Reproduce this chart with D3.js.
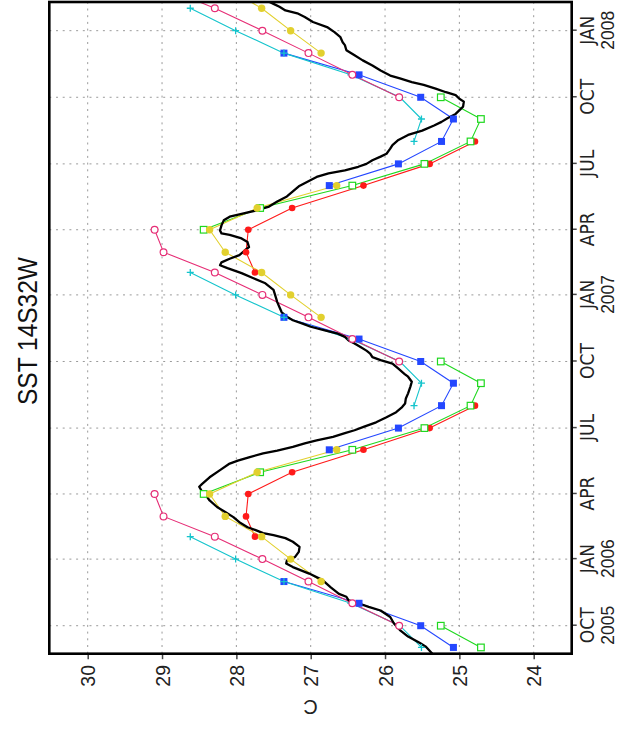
<!DOCTYPE html>
<html><head><meta charset="utf-8">
<script src="https://cdn.jsdelivr.net/npm/d3@7"></script>
<style>body{margin:0;background:#fff}</style>
</head><body>
<svg id="c" width="621" height="731"></svg>
<script>
// ---------- DATA ----------
const months = ["2005-09","2005-10","2005-11","2005-12","2006-01","2006-02","2006-03","2006-04","2006-05","2006-06","2006-07","2006-08",
"2006-09","2006-10","2006-11","2006-12","2007-01","2007-02","2007-03","2007-04","2007-05","2007-06","2007-07","2007-08",
"2007-09","2007-10","2007-11","2007-12","2008-01","2008-02","2008-03"];
const _ = null;
const redVals     = [_,_,_,_,_,27.75,27.87,27.84,27.25,26.29,25.40,24.79,_,_,_,_,_,27.75,27.87,27.84,27.25,26.29,25.40,24.79,_,_,_,_,_,_,_];
const greenVals   = [24.71,25.25,_,_,_,_,_,28.44,27.68,26.44,25.47,24.85,24.71,25.25,_,_,_,_,_,28.44,27.68,26.44,25.47,24.85,24.71,25.25,_,_,_,_,_];
const blueVals    = [25.08,25.52,26.35,27.36,_,_,_,_,_,26.75,25.82,25.24,25.08,25.52,26.35,27.36,_,_,_,_,_,26.75,25.82,25.24,25.08,25.52,26.35,27.36,_,_,_];
const cyanVals    = [25.51,25.80,26.46,27.36,28.01,28.62,_,_,_,_,_,25.61,25.51,25.80,26.46,27.36,28.01,28.62,_,_,_,_,_,25.61,25.51,25.80,26.46,27.36,28.01,28.62,_];
const magentaVals = [_,25.81,26.44,27.03,27.65,28.29,28.98,29.10,_,_,_,_,_,25.81,26.44,27.03,27.65,28.29,28.98,29.10,_,_,_,_,_,25.81,26.44,27.03,27.65,28.29,28.98];
const yellowVals  = [_,_,_,26.86,27.27,27.66,28.15,28.36,27.72,26.65,_,_,_,_,_,26.86,27.27,27.66,28.15,28.36,27.72,26.65,_,_,_,_,_,26.86,27.27,27.66,28.15];

const sst = [
["2005-08-20",25.30],["2005-08-23",25.36],["2005-09-02",25.45],["2005-09-07",25.53],["2005-09-16",25.69],["2005-09-25",25.80],
["2005-10-04",25.88],["2005-10-13",25.93],["2005-10-22",26.06],["2005-10-27",26.22],["2005-11-01",26.36],["2005-11-05",26.49],
["2005-11-10",26.52],["2005-11-14",26.62],["2005-11-23",26.73],["2005-12-03",26.84],["2005-12-12",27.02],["2005-12-21",27.24],
["2005-12-26",27.33],["2005-12-30",27.32],["2006-01-04",27.21],["2006-01-11",27.16],["2006-01-18",27.15],["2006-01-25",27.24],
["2006-01-30",27.34],["2006-02-03",27.50],["2006-02-06",27.64],["2006-02-10",27.74],["2006-02-14",27.85],["2006-02-21",27.96],
["2006-02-28",28.04],["2006-03-07",28.15],["2006-03-14",28.26],["2006-03-23",28.36],["2006-03-30",28.41],["2006-04-04",28.46],
["2006-04-11",28.50],["2006-04-15",28.46],["2006-04-24",28.36],["2006-05-04",28.22],["2006-05-13",28.09],["2006-05-17",27.98],
["2006-05-22",27.82],["2006-05-27",27.64],["2006-05-31",27.45],["2006-06-05",27.24],["2006-06-10",27.08],["2006-06-14",26.92],
["2006-06-19",26.70],["2006-06-24",26.54],["2006-06-28",26.41],["2006-07-03",26.28],["2006-07-09",26.12],["2006-07-16",25.98],
["2006-07-23",25.85],["2006-07-30",25.77],["2006-08-04",25.73],["2006-08-11",25.72],["2006-08-18",25.69],["2006-08-27",25.66],
["2006-09-03",25.64],["2006-09-10",25.69],["2006-09-14",25.74],["2006-09-21",25.82],["2006-09-28",25.90],["2006-10-03",26.06],
["2006-10-07",26.17],["2006-10-12",26.20],["2006-10-16",26.25],["2006-10-21",26.33],["2006-10-26",26.41],["2006-10-30",26.49],
["2006-11-04",26.54],["2006-11-09",26.65],["2006-11-13",26.81],["2006-11-18",27.00],["2006-11-22",27.10],["2006-11-27",27.24],
["2006-12-02",27.32],["2006-12-08",27.39],["2006-12-15",27.42],["2006-12-22",27.45],["2006-12-29",27.47],["2007-01-08",27.50],
["2007-01-17",27.61],["2007-01-24",27.77],["2007-01-31",27.93],["2007-02-07",28.12],["2007-02-11",28.22],["2007-02-15",28.20],
["2007-02-20",28.09],["2007-02-25",27.96],["2007-03-04",27.88],["2007-03-08",27.83],["2007-03-15",27.85],["2007-03-20",27.93],
["2007-03-25",28.09],["2007-03-27",28.20],["2007-03-31",28.22],["2007-04-07",28.20],["2007-04-14",28.17],["2007-04-19",28.09],
["2007-04-23",27.93],["2007-04-28",27.72],["2007-05-03",27.56],["2007-05-10",27.45],["2007-05-17",27.32],["2007-05-24",27.24],
["2007-05-31",27.16],["2007-06-06",27.05],["2007-06-13",26.92],["2007-06-18",26.76],["2007-06-22",26.54],["2007-06-27",26.36],
["2007-07-01",26.25],["2007-07-06",26.17],["2007-07-11",26.06],["2007-07-15",25.98],["2007-07-22",25.93],["2007-07-27",25.90],
["2007-08-03",25.82],["2007-08-10",25.69],["2007-08-16",25.50],["2007-08-23",25.34],["2007-08-28",25.24],["2007-09-02",25.16],
["2007-09-08",25.05],["2007-09-18",24.95],["2007-09-25",24.94],["2007-09-29",25.00],["2007-10-04",25.05],["2007-10-08",25.18],
["2007-10-13",25.32],["2007-10-18",25.48],["2007-10-22",25.64],["2007-10-27",25.80],["2007-10-31",25.93],["2007-11-07",26.06],
["2007-11-14",26.17],["2007-11-21",26.30],["2007-11-28",26.41],["2007-12-05",26.52],["2007-12-12",26.54],["2007-12-16",26.57],
["2007-12-23",26.60],["2007-12-30",26.68],["2008-01-06",26.78],["2008-01-13",26.97],["2008-01-20",27.08],["2008-01-25",27.18],
["2008-01-29",27.34],["2008-02-03",27.42],["2008-02-07",27.50],["2008-02-10",27.56],["2008-02-14",27.62]
];

const tempTicks = [24,25,26,27,28,29,30];
const timeTicks = ["2005-10-01","2006-01-01","2006-04-01","2006-07-01","2006-10-01","2007-01-01","2007-04-01","2007-07-01","2007-10-01","2008-01-01"];
const timeTickMonths = ["OCT","JAN","APR","JUL","OCT","JAN","APR","JUL","OCT","JAN"];
const timeTickYears  = ["2005","2006","","","","2007","","","","2008"];
const titleText = "SST 14S32W";
const unitText = "C";

// ---------- LAYOUT (drawn as a normal chart, then rotated -90deg) ----------
const svg = d3.select("#c");
const g = svg.append("g").attr("transform","translate(0,731) rotate(-90)");
const X0 = 77.3, X1 = 729, Y0 = 49.3, Y1 = 571.7;
const pDay = d3.utcParse("%Y-%m-%d"), pMon = d3.utcParse("%Y-%m");
const xT = d3.scaleUtc().domain([new Date(Date.UTC(2005,7,23,8)), new Date(Date.UTC(2008,1,9,15))]).range([X0, X1]);
const yT = d3.scaleLinear().domain([24,30]).range([533.7, 87.7]);

svg.append("defs").append("clipPath").attr("id","clip")
  .append("rect").attr("x",X0).attr("y",Y0).attr("width",X1-X0).attr("height",Y1-Y0);

// gridlines
const grid = g.append("g").attr("stroke","#9a9a9a").attr("stroke-width",1).attr("stroke-dasharray","2,4.7");
tempTicks.forEach(t => grid.append("line").attr("x1",X0).attr("x2",X1).attr("y1",yT(t)).attr("y2",yT(t)));
timeTicks.forEach(d => { const x = xT(pDay(d)); grid.append("line").attr("x1",x).attr("x2",x).attr("y1",Y0).attr("y2",Y1); });

// axes
const axT = g.append("g").attr("transform",`translate(${X0},0)`)
  .call(d3.axisLeft(yT).tickValues(tempTicks).tickSize(5.5).tickPadding(5.8).tickFormat(d3.format("d")));
axT.select(".domain").remove();
axT.selectAll("line").attr("stroke","#444").attr("stroke-width",1.5);
axT.selectAll("text").attr("font-family","'Liberation Sans', Arial, sans-serif").attr("font-size",19.5).attr("fill","#222").attr("dy","0.36em");

const axX = g.append("g").attr("transform",`translate(0,${Y1})`)
  .call(d3.axisBottom(xT).tickValues(timeTicks.map(pDay)).tickSize(5).tickFormat(() => ""));
axX.select(".domain").remove();
axX.selectAll("line").attr("stroke","#444").attr("stroke-width",1.5);
axX.selectAll(".tick text").remove();
axX.selectAll(".tick").each(function(d,i){
  const t = d3.select(this);
  t.append("text").attr("y",22.6).attr("text-anchor","middle").attr("fill","#222")
    .attr("font-family","'Liberation Sans Narrow', 'DejaVu Sans Condensed', sans-serif").attr("font-size",19).text(timeTickMonths[i]);
  if (timeTickYears[i]) t.append("text").attr("y",42.3).attr("text-anchor","middle").attr("fill","#222")
    .attr("font-family","'Liberation Sans', Arial, sans-serif").attr("font-size",17.5).text(timeTickYears[i]);
});

// labels
g.append("text").attr("transform","translate(24,310.5) rotate(-90)").attr("text-anchor","middle")
  .attr("dominant-baseline","central").attr("font-family","'Liberation Sans', Arial, sans-serif")
  .attr("font-size",20).attr("fill","#222").text(unitText);
g.append("text").attr("x",400).attr("y",37).attr("text-anchor","middle")
  .attr("font-family","'Liberation Sans', Arial, sans-serif").attr("font-size",27).attr("fill","#111")
  .attr("textLength",148).attr("lengthAdjust","spacingAndGlyphs").text(titleText);

// data
const plot = g.append("g").attr("clip-path","url(#clip)");
const series = [
  {vals:redVals, color:"#ff1a1a", mark:"dot"},
  {vals:greenVals, color:"#1fd81f", mark:"osq"},
  {vals:blueVals, color:"#2447ff", mark:"sq"},
  {vals:cyanVals, color:"#14c4cc", mark:"plus"},
  {vals:magentaVals, color:"#e62e76", mark:"ocirc"},
  {vals:yellowVals, color:"#e2d02e", mark:"ydot"}
];
const mline = d3.line().defined(d => d.v != null).x(d => xT(d.t)).y(d => yT(d.v));
series.forEach(s => {
  s.pts = months.map((m,i) => ({t:pMon(m), v:s.vals[i]}));
  plot.append("path").datum(s.pts).attr("d",mline).attr("fill","none").attr("stroke",s.color).attr("stroke-width",1.1);
});
const bl = d3.line().x(d => xT(pDay(d[0]))).y(d => yT(d[1]));
plot.append("path").datum(sst).attr("d",bl).attr("fill","none").attr("stroke","#000").attr("stroke-width",2.3).attr("stroke-linejoin","round");

series.forEach(s => {
  const pts = s.pts.filter(d => d.v != null);
  const mg = plot.append("g");
  pts.forEach(d => {
    const x = xT(d.t), y = yT(d.v);
    if (s.mark === "dot") mg.append("circle").attr("cx",x).attr("cy",y).attr("r",3.3).attr("fill",s.color);
    else if (s.mark === "ydot") mg.append("circle").attr("cx",x).attr("cy",y).attr("r",3.7).attr("fill",s.color);
    else if (s.mark === "sq") mg.append("rect").attr("x",x-3.5).attr("y",y-3.5).attr("width",7).attr("height",7).attr("fill",s.color);
    else if (s.mark === "osq") mg.append("rect").attr("x",x-3.3).attr("y",y-3.3).attr("width",6.6).attr("height",6.6).attr("fill","#fff").attr("stroke",s.color).attr("stroke-width",1.2);
    else if (s.mark === "ocirc") mg.append("circle").attr("cx",x).attr("cy",y).attr("r",3.4).attr("fill","#fff").attr("stroke",s.color).attr("stroke-width",1.2);
    else if (s.mark === "plus") mg.append("path").attr("d",`M${x-3.5},${y}H${x+3.5}M${x},${y-3.5}V${y+3.5}`).attr("stroke",s.color).attr("stroke-width",1.3);
  });
});

// frame
g.append("rect").attr("x",X0).attr("y",Y0).attr("width",X1-X0).attr("height",Y1-Y0)
  .attr("fill","none").attr("stroke","#000").attr("stroke-width",2.6);
</script>
</body></html>
